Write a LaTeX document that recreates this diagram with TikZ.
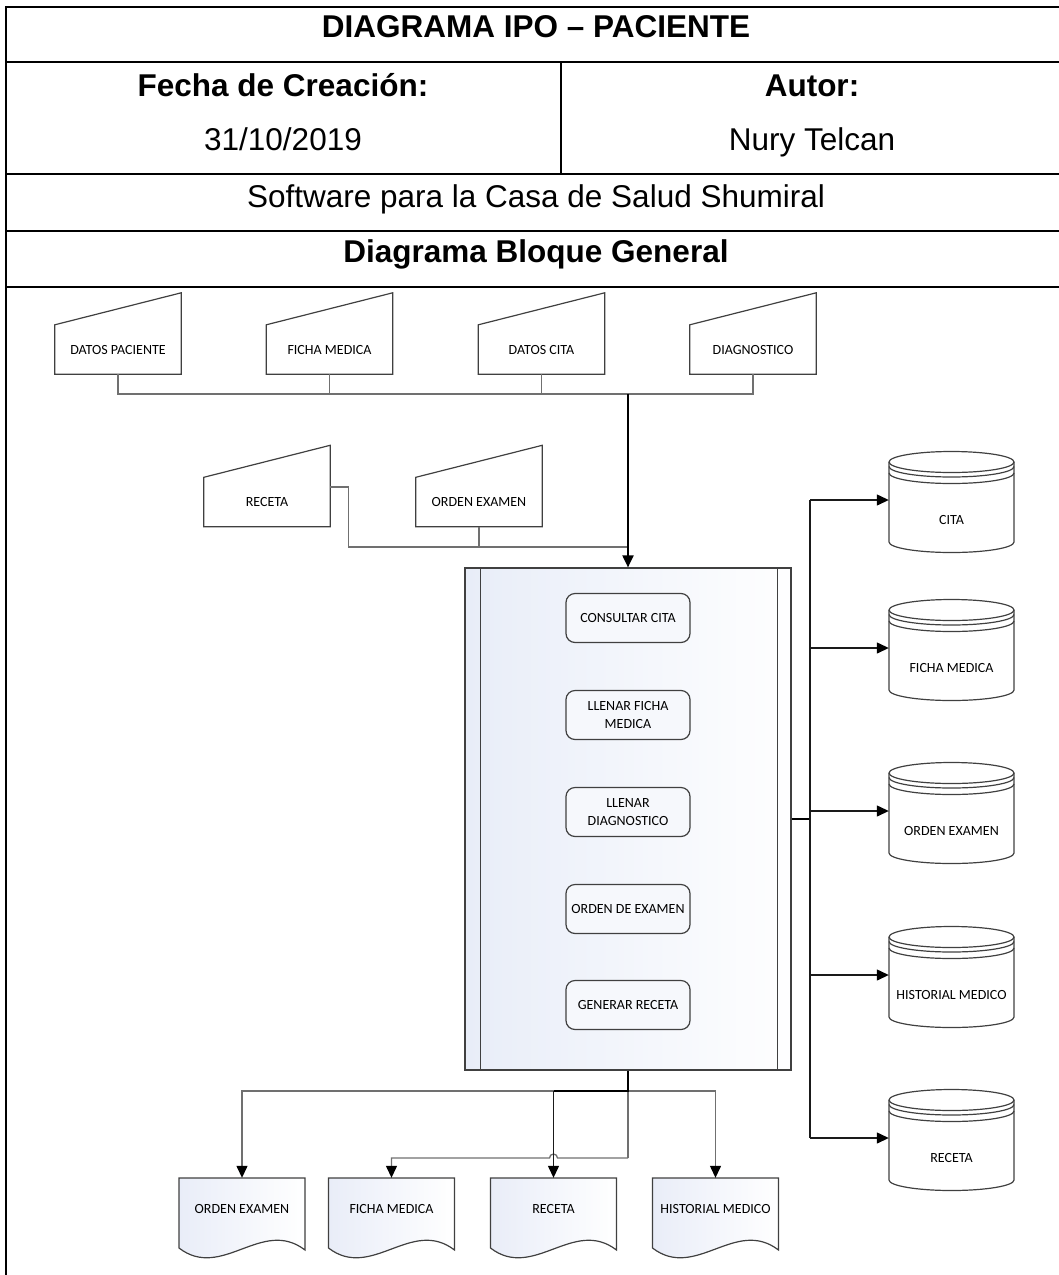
\documentclass[tikz,border=0pt]{standalone}
\usepackage{fontspec}
\setmainfont{Liberation Sans}
\newfontfamily\lblfont{Carlito}
\usetikzlibrary{arrows.meta,backgrounds}

\definecolor{linegray}{HTML}{707070}
\definecolor{shapeline}{HTML}{404040}
\definecolor{darkline}{HTML}{1A1A1A}
\definecolor{procfill}{HTML}{E8EDF8}
\definecolor{boxfill}{HTML}{F6F8FC}
\definecolor{docfill}{HTML}{E9EDF8}

\tikzset{
  tablerule/.style={line width=1.3pt, black},
  head/.style={font=\fontsize{31.5}{36}\selectfont\bfseries, anchor=base, inner sep=0pt},
  body/.style={font=\fontsize{31.5}{36}\selectfont, anchor=base, inner sep=0pt},
  lbl/.style={font=\lblfont\fontsize{14}{18}\selectfont, align=center, inner sep=0pt, text=black},
  manin/.style={lbl, minimum width=126pt, minimum height=49pt},
  dbnode/.style={lbl, minimum width=125pt, minimum height=40pt},
  docnode/.style={lbl, minimum width=126pt, minimum height=62pt},
  task/.style={lbl, draw=shapeline, line width=1.2pt, rounded corners=9pt, fill=boxfill,
               minimum width=124pt, minimum height=49pt},
  outline/.style={draw=shapeline, line width=1.2pt},
  feed/.style={draw=linegray, line width=1.3pt},
  dark/.style={draw=darkline, line width=1.3pt},
  spine/.style={draw=black, line width=2pt},
  tip/.style={-{Triangle[length=12pt,width=11pt,color=black]}},
}

% manual input outline (slanted top) around a node
\newcommand\maninput[1]{%
  \draw[outline] (#1.south west) -- (#1.north west) -- ([yshift=32pt]#1.north east)
    -- (#1.south east) -- cycle;}

% database cylinder around a node
\newcommand\dbdraw[1]{%
  \begin{scope}[shift={(#1.center)}]
    \draw[outline] (-62.5,-58) -- (-62.5,22)
      arc[start angle=180,end angle=360,x radius=62.5pt,y radius=10.5pt]
      -- (62.5,-58)
      arc[start angle=0,end angle=180,x radius=62.5pt,y radius=10.5pt] -- cycle;
    \draw[outline] (-62.5,-58) arc[start angle=180,end angle=360,x radius=62.5pt,y radius=10.5pt];
    \draw[outline] (-62.5,-53.5) arc[start angle=180,end angle=360,x radius=62.5pt,y radius=10.5pt];
    \draw[outline] (-62.5,-47) arc[start angle=180,end angle=360,x radius=62.5pt,y radius=10.5pt];
  \end{scope}}

% document shape with wavy bottom around a node
\newcommand\docdraw[1]{%
  \begin{scope}[on background layer, shift={(#1.center)}]
    \draw[outline, left color=docfill, right color=white]
      (-63,-31) -- (-63,39) .. controls (-20,72) and (20,8) .. (63,41) -- (63,-31) -- cycle;
  \end{scope}}

\begin{document}
\begin{tikzpicture}[x=1pt,y=-1pt]
\useasboundingbox (0,0) rectangle (1059,1275);

% ---- header table ----
\draw[line width=2pt] (5,7) -- (1059,7);
\draw[line width=2.4pt] (6,6) -- (6,1275);
\draw[tablerule] (6,62) -- (1059,62);
\draw[tablerule] (561,62) -- (561,174);
\draw[tablerule] (6,174) -- (1059,174);
\draw[tablerule] (6,231) -- (1059,231);
\draw[line width=2pt] (6,287) -- (1059,287);

\node[head] (title) at (536,37) {DIAGRAMA IPO – PACIENTE};
\node[head] (fechah) at (283,96) {Fecha de Creación:};
\node[head] (autorh) at (812,96) {Autor:};
\node[body] (fecha) at (283,150) {31/10/2019};
\node[body] (autor) at (812,150) {Nury Telcan};
\node[body] (proj) at (536,207) {Software para la Casa de Salud Shumiral};
\node[head] (sect) at (536,262) {Diagrama Bloque General};

% ---- inputs ----
\node[manin] (inpac) at (118,349.5) {DATOS PACIENTE};
\node[manin] (inficha) at (329.5,349.5) {FICHA MEDICA};
\node[manin] (incita) at (541.5,349.5) {DATOS CITA};
\node[manin] (indiag) at (753,349.5) {DIAGNOSTICO};
\node[manin] (inrec) at (267,502) {RECETA};
\node[manin] (inord) at (479,502) {ORDEN EXAMEN};
\foreach \n in {inpac,inficha,incita,indiag,inrec,inord} {\maninput{\n}}

% ---- process ----
\node[draw=shapeline, line width=1.2pt, left color=procfill, right color=white!97!procfill,
      minimum width=326pt, minimum height=502pt, inner sep=0pt] (proc) at (628,819) {};
\draw[outline] ([xshift=16pt]proc.north west) -- ([xshift=16pt]proc.south west);
\draw[outline] ([xshift=-14pt]proc.north east) -- ([xshift=-14pt]proc.south east);

\node[task] (t1) at (628,618) {CONSULTAR CITA};
\node[task] (t2) at (628,715) {LLENAR FICHA\\MEDICA};
\node[task] (t3) at (628,812) {LLENAR\\DIAGNOSTICO};
\node[task] (t4) at (628,909) {ORDEN DE EXAMEN};
\node[task] (t5) at (628,1005) {GENERAR RECETA};

% ---- stores ----
\node[dbnode] (dbcita) at (951.5,520) {CITA};
\node[dbnode] (dbficha) at (951.5,668) {FICHA MEDICA};
\node[dbnode] (dbord) at (951.5,831) {ORDEN EXAMEN};
\node[dbnode] (dbhist) at (951.5,995) {HISTORIAL MEDICO};
\node[dbnode] (dbrec) at (951.5,1158) {RECETA};
\foreach \n in {dbcita,dbficha,dbord,dbhist,dbrec} {\dbdraw{\n}}

% ---- output documents ----
\node[docnode] (docord) at (242,1209) {ORDEN EXAMEN};
\node[docnode] (docfich) at (391.5,1209) {FICHA MEDICA};
\node[docnode] (docrec) at (553.5,1209) {RECETA};
\node[docnode] (dochist) at (715.5,1209) {HISTORIAL MEDICO};
\foreach \n in {docord,docfich,docrec,dochist} {\docdraw{\n}}

% ---- input connectors ----
\coordinate (topbus) at (628,394);
\coordinate (recjoin) at (628,547);
\foreach \n in {inpac,inficha,incita,indiag} {\draw[feed] (\n.south) |- (topbus);}
\draw[feed] ([yshift=15pt]inrec.east) -- ++(18,0) |- (recjoin);
\draw[feed] (inord.south) |- (recjoin);
\draw[spine, tip] (topbus) -- (proc.north);

% ---- store connectors ----
\coordinate (rbus) at (810,819);
\foreach \n in {dbcita,dbficha,dbord,dbhist,dbrec} {\coordinate (\n-in) at ([yshift=20pt]\n.west);}
\draw[spine, line width=1.8pt] (proc.east) -- (rbus);
\draw[dark] (rbus |- dbcita-in) -- (rbus |- dbrec-in);
\foreach \n in {dbcita,dbficha,dbord,dbhist,dbrec} {\draw[dark, tip] (rbus |- \n-in) -- (\n-in);}

% ---- document connectors ----
\coordinate (bsplit) at (628,1091);
\coordinate (bjog) at (628,1158);
\coordinate (hop) at (bjog -| docrec.north);
\draw[feed, tip] (bsplit) -| (docord.north);
\draw[feed, tip] (bsplit) -| (dochist.north);
\draw[feed] (bsplit) -- (bjog);
\draw[feed, tip] (bjog) -- ([xshift=4pt]hop) arc[start angle=0,end angle=180,radius=4pt]
  -- (bjog -| docfich.north) -- (docfich.north);
\draw[spine] (proc.south) -- (bsplit) -- (bsplit -| docrec.north);
\draw[dark, tip] (bsplit -| docrec.north) -- (docrec.north);
\end{tikzpicture}
\end{document}
